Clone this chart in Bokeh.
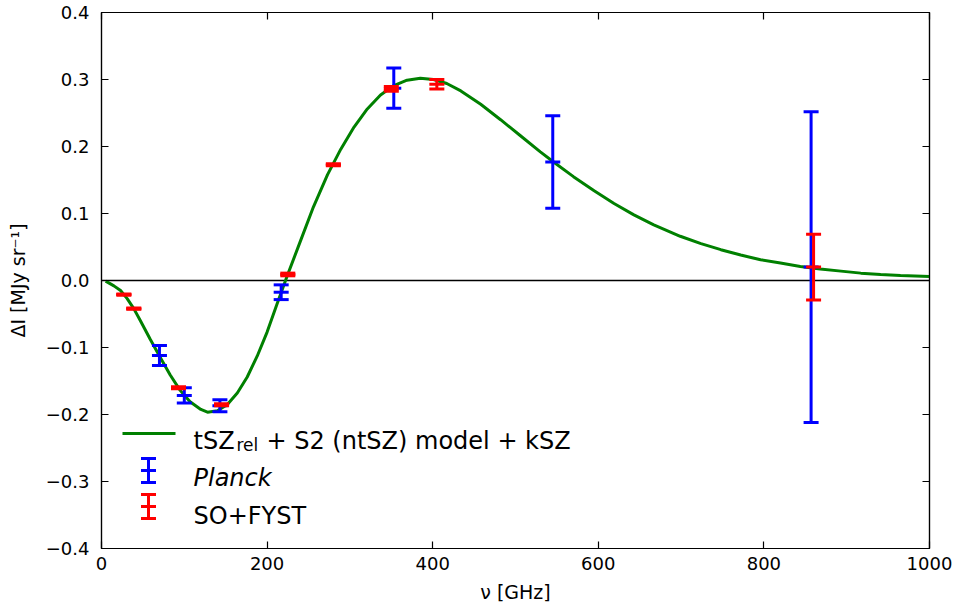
from bokeh.plotting import figure
from bokeh.models import (LinearAxis, Span, Label, Arrow, CustomJSTickFormatter,
                          FixedTicker, Range1d, ColumnDataSource)
from bokeh.embed import file_html
from bokeh.resources import INLINE

# ---------------- data ----------------
model_freq = [5, 15, 23, 31, 39, 47, 59, 71, 83, 95, 107, 120, 128, 140, 152, 164,
              176, 188, 200, 212, 224, 240, 256, 273, 289, 305, 321, 337, 353, 369,
              385, 401, 417, 434, 458, 482, 506, 530, 548, 570, 595, 619, 643, 667,
              699, 724, 748, 772, 796, 820, 844, 868, 893, 917, 941, 965, 1000]
model_dI = [-0.001, -0.008, -0.015, -0.027, -0.042, -0.060, -0.088, -0.115, -0.141,
            -0.164, -0.181, -0.1925, -0.1965, -0.1945, -0.185, -0.168, -0.144, -0.113,
            -0.077, -0.035, 0.006, 0.058, 0.110, 0.158, 0.196, 0.229, 0.256, 0.277,
            0.291, 0.299, 0.302, 0.300, 0.294, 0.283, 0.263, 0.240, 0.216, 0.192,
            0.175, 0.155, 0.134, 0.115, 0.098, 0.083, 0.066, 0.055, 0.046, 0.038,
            0.031, 0.026, 0.021, 0.017, 0.014, 0.011, 0.009, 0.0075, 0.006]

planck_freq = [70, 100, 143, 217, 353, 545, 857]
planck_dI = [-0.112, -0.1715, -0.187, -0.0175, 0.287, 0.177, 0.020]
planck_err = [0.015, 0.0115, 0.009, 0.011, 0.030, 0.069, 0.232]

so_freq = [27, 39, 93, 145, 225, 280, 350, 405, 860]
so_dI = [-0.021, -0.042, -0.160, -0.1855, 0.009, 0.1727, 0.286, 0.293, 0.020]
so_err = [0.001, 0.001, 0.0015, 0.0015, 0.002, 0.0015, 0.0035, 0.007, 0.049]

x_ticks = [0, 200, 400, 600, 800, 1000]
y_ticks = [-0.4, -0.3, -0.2, -0.1, 0.0, 0.1, 0.2, 0.3, 0.4]

legend_labels = ["tSZ", "rel", "+ S2 (ntSZ) model + kSZ", "Planck", "SO+FYST"]

FONT = "DejaVu Sans"

p = figure(width=956, height=607, output_backend="svg", toolbar_location=None,
           x_range=Range1d(0, 1000), y_range=Range1d(-0.4, 0.4),
           min_border_left=101, min_border_right=27, min_border_top=12,
           min_border_bottom=59)
p.xgrid.grid_line_color = None
p.ygrid.grid_line_color = None
p.outline_line_color = "black"
p.outline_line_width = 1.2
p.background_fill_color = "white"

xf = CustomJSTickFormatter(code="return tick.toFixed(0);")
yf = CustomJSTickFormatter(code="return (tick < -1e-9 ? '\u2212' : '') + Math.abs(tick).toFixed(1);")

p.xaxis[0].ticker = FixedTicker(ticks=x_ticks)
p.yaxis[0].ticker = FixedTicker(ticks=y_ticks)
p.xaxis[0].formatter = xf
p.yaxis[0].formatter = yf

for ax in (p.xaxis[0], p.yaxis[0]):
    ax.major_tick_in = 7
    ax.major_tick_out = 0
    ax.minor_tick_in = 0
    ax.minor_tick_out = 0
    ax.axis_line_color = "black"
    ax.axis_line_width = 1.2
    ax.major_tick_line_color = "black"
    ax.major_tick_line_width = 1.2
    ax.major_label_text_font = FONT
    ax.major_label_text_font_size = "18px"
    ax.major_label_text_color = "black"
    ax.axis_label_text_font = FONT
    ax.axis_label_text_font_size = "19px"
    ax.axis_label_text_font_style = "normal"
    ax.axis_label_text_color = "black"

p.xaxis[0].major_label_standoff = 8
p.xaxis[0].axis_label = "\u03bd [GHz]"
p.xaxis[0].axis_label_standoff = 8
p.yaxis[0].major_label_standoff = 12
p.yaxis[0].axis_label = "\u0394I [MJy sr\u207b\u00b9]"
p.yaxis[0].axis_label_standoff = 14

for loc, ticks in (("above", x_ticks), ("right", y_ticks)):
    ax = LinearAxis(ticker=FixedTicker(ticks=ticks),
                    formatter=CustomJSTickFormatter(code="return '';"),
                    major_label_text_font_size="0px", major_label_standoff=0,
                    major_tick_in=7, major_tick_out=0, minor_tick_in=0,
                    minor_tick_out=0, axis_line_color="black", axis_line_width=1.2,
                    major_tick_line_color="black", major_tick_line_width=1.2)
    p.add_layout(ax, loc)

p.add_layout(Span(location=0, dimension="width", line_color="black",
                  line_width=1.5, level="underlay"))

# model curve
p.line(model_freq, model_dI, line_color="green", line_width=3)


def error_bars(freq, val, err, color):
    lo = [v - e for v, e in zip(val, err)]
    hi = [v + e for v, e in zip(val, err)]
    src = ColumnDataSource(dict(x=freq, v=val, lo=lo, hi=hi))
    p.segment(x0="x", y0="lo", x1="x", y1="hi", source=src,
              line_color=color, line_width=3)
    for col in ("lo", "hi", "v"):
        p.scatter(x="x", y=col, source=src, marker="dash", size=15,
                  line_color=color, line_width=3)


error_bars(planck_freq, planck_dI, planck_err, "blue")
error_bars(so_freq, so_dI, so_err, "red")

# ---------------- legend (screen units, frame relative) ----------------
def seg(x0, y0, x1, y1, color):
    p.add_layout(Arrow(end=None, x_start=x0, y_start=y0, x_end=x1, y_end=y1,
                       start_units="screen", end_units="screen",
                       line_color=color, line_width=3))


seg(21, 115, 74, 115, "green")
for yc, color in ((78, "blue"), (42, "red")):
    seg(47, yc - 12, 47, yc + 12, color)
    for yy in (yc - 12, yc + 12, yc):
        seg(39.5, yy, 54.5, yy, color)


def lab(x, y, text, size, style="normal"):
    p.add_layout(Label(x=x, y=y, x_units="screen", y_units="screen", text=text,
                       text_font=FONT, text_font_size=size, text_font_style=style,
                       text_color="black", text_baseline="alphabetic"))


lab(92, 107.5, legend_labels[0], "24px")
lab(135, 103.5, legend_labels[1], "17px")
lab(165, 107.5, legend_labels[2], "24px")
lab(92, 71, legend_labels[3], "24px", "italic")
lab(92, 33, legend_labels[4], "24px")

open("out.html", "w").write(file_html(p, INLINE))
